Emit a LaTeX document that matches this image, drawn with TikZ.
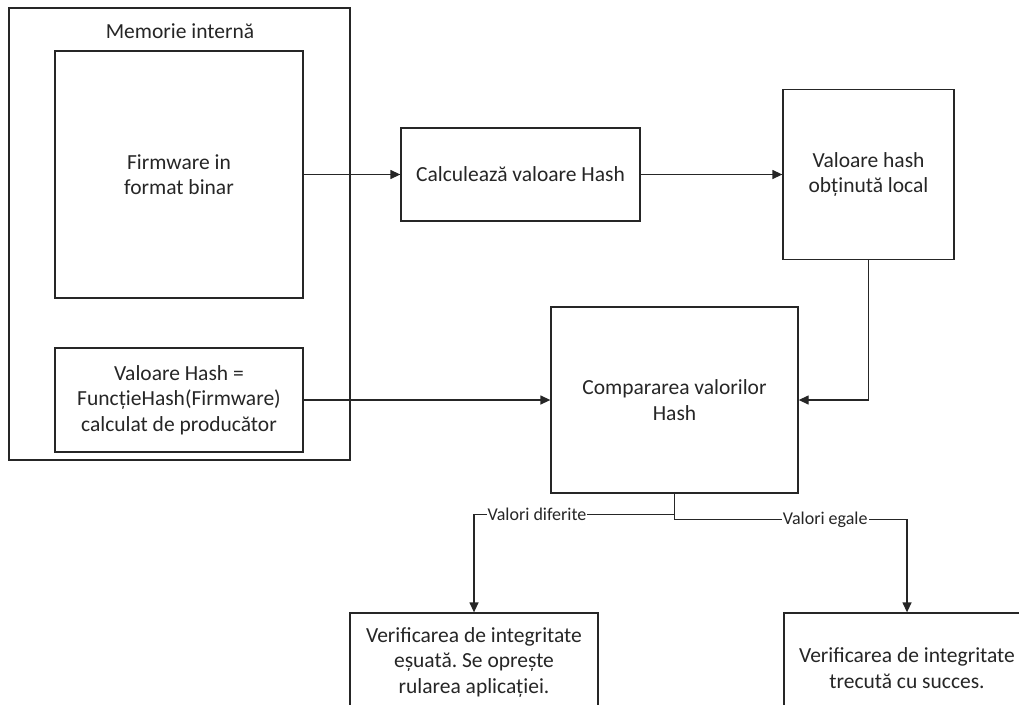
\documentclass[tikz,border=0pt]{standalone}
\usepackage{fontspec}
\setmainfont{Carlito}
\usepackage{tikz}
\usetikzlibrary{arrows.meta,positioning}
\frenchspacing

\begin{document}
\begin{tikzpicture}[
  x=1pt,y=-1pt,
  bx/.style={draw=black!85,line width=1.3pt,fill=white,align=center,inner sep=0pt,text=black!85,font=\fontsize{21.5}{25.5}\selectfont},
  txt/.style={align=center,inner sep=0pt,text=black!85,font=\fontsize{21.5}{25.5}\selectfont},
  ar/.style={-{Triangle[length=10pt,width=9pt]},line width=1.3pt,draw=black!85},
  lbl/.style={fill=white,inner sep=1pt,text=black!85,font=\fontsize{18}{21}\selectfont}
]
\useasboundingbox (0,0) rectangle (1019,704);
% memoria interna
\node[bx,minimum width=341,minimum height=452] (mem) at (179.5,234) {};
\node[txt] (memt) at (180,31) {Memorie internă};
\node[bx,minimum width=248,minimum height=247] (fw) at (179,174.5) {Firmware in\\format binar};
\node[bx,minimum width=248,minimum height=104] (prod) at (179,400) {Valoare Hash =\\FuncțieHash(Firmware)\\calculat de producător};
% calcul si comparare
\node[bx,minimum width=239,minimum height=93] (calc) at (520.5,174.5) {Calculează valoare Hash};
\node[bx,minimum width=171,minimum height=170] (loc) at (868.5,174.5) {Valoare hash\\obținută local};
\node[bx,minimum width=247,minimum height=186] (cmp) at (674.5,400) {Compararea valorilor\\Hash};
% rezultate
\node[bx,minimum width=248,minimum height=98] (fail) at (474,662) {Verificarea de integritate\\eșuată. Se oprește\\rularea aplicației.};
\node[bx,minimum width=246,minimum height=110] (ok) at (907,668) {Verificarea de integritate\\trecută cu succes.};

\draw[ar] (fw) -- (calc);
\draw[ar] (calc) -- (loc);
\draw[ar] (loc.south) |- (cmp.east);
\draw[ar] (prod) -- (cmp);
\draw[ar] (cmp.south) -- ++(0,21) -| node[lbl,pos=0.343] {Valori diferite} (fail.north);
\draw[ar] (cmp.south) -- ++(0,26) -| node[lbl,pos=0.324] {Valori egale} (ok.north);
\end{tikzpicture}
\end{document}
